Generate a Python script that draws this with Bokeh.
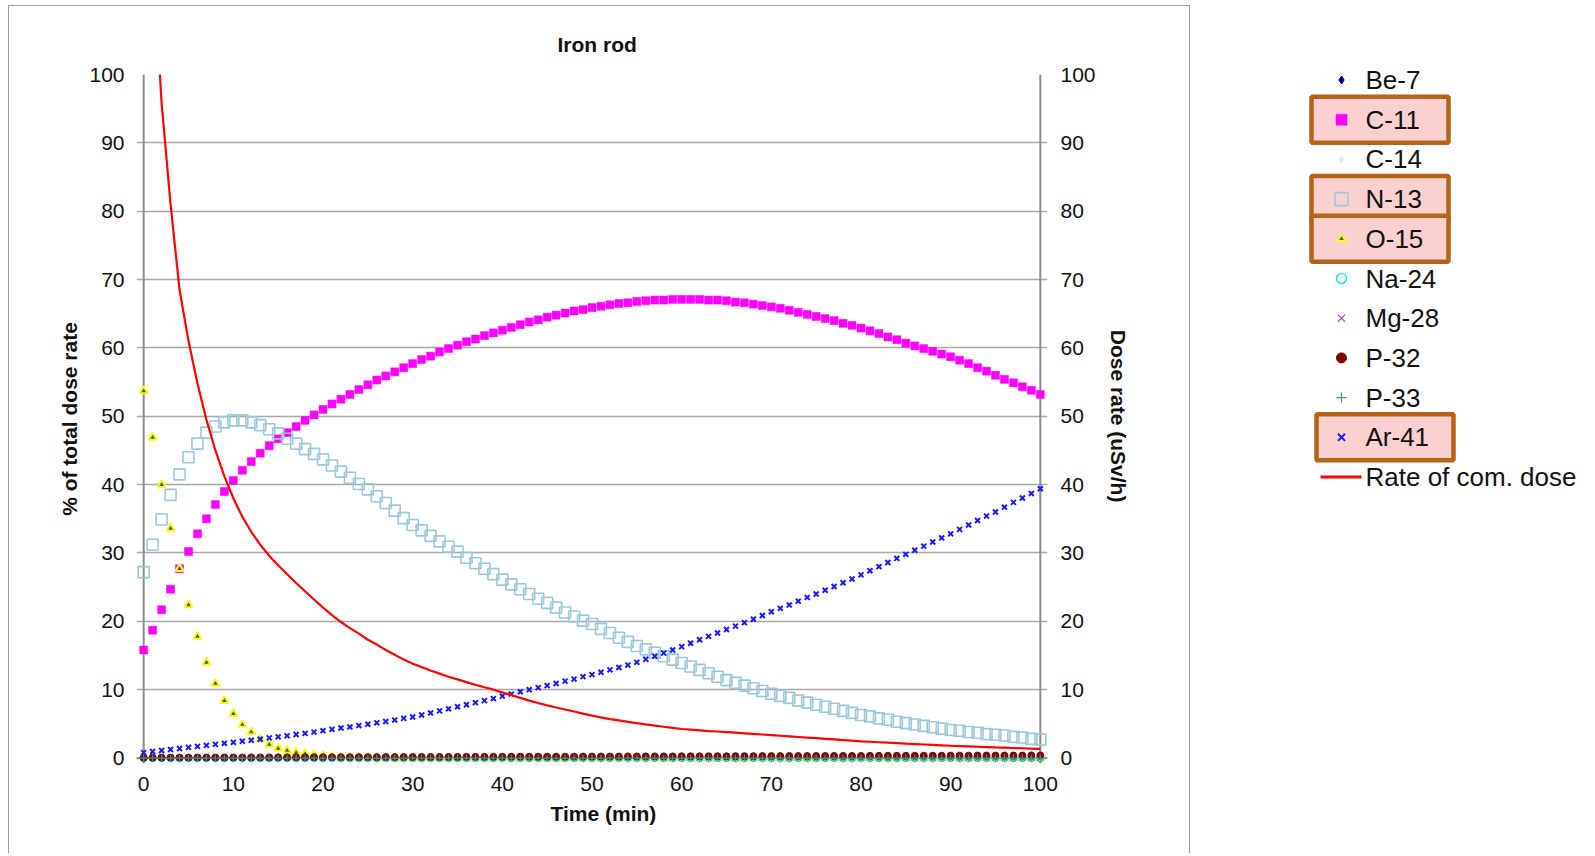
from bokeh.plotting import figure
from bokeh.models import Range1d, LinearAxis, FixedTicker, Span, Label, Plot, Title
from bokeh.layouts import row
from bokeh.embed import file_html
from bokeh.resources import INLINE

FONT = "Liberation Sans"

# ---------------- data ----------------
time_min = list(range(101))

c11 = [15.8, 18.7, 21.7, 24.7, 27.7, 30.2, 32.8, 35.0, 37.1, 39.0,
       40.6, 42.1, 43.4, 44.6, 45.7, 46.7, 47.6, 48.5, 49.4, 50.2,
       51.0, 51.8, 52.5, 53.2, 53.9, 54.6, 55.3, 55.9, 56.5, 57.1,
       57.7, 58.3, 58.8, 59.4, 59.9, 60.4, 60.9, 61.3, 61.8, 62.2,
       62.6, 63.0, 63.4, 63.8, 64.1, 64.5, 64.8, 65.1, 65.4, 65.6,
       65.9, 66.1, 66.3, 66.5, 66.6, 66.8, 66.9, 67.0, 67.0, 67.1,
       67.1, 67.1, 67.1, 67.0, 67.0, 66.9, 66.7, 66.6, 66.4, 66.2,
       66.0, 65.8, 65.5, 65.2, 64.9, 64.6, 64.3, 64.0, 63.6, 63.3,
       62.9, 62.5, 62.1, 61.6, 61.2, 60.7, 60.3, 59.9, 59.5, 59.1,
       58.7, 58.2, 57.7, 57.1, 56.6, 56.0, 55.4, 54.9, 54.3, 53.8,
       53.2]

n13 = [27.2, 31.2, 34.9, 38.5, 41.5, 44.0, 46.0, 47.6, 48.5, 49.1,
       49.4, 49.4, 49.1, 48.7, 48.1, 47.5, 46.7, 46.0, 45.2, 44.5,
       43.7, 42.8, 41.9, 41.0, 40.1, 39.3, 38.3, 37.3, 36.2, 35.1,
       34.1, 33.3, 32.5, 31.7, 30.9, 30.2, 29.3, 28.5, 27.7, 26.9,
       26.1, 25.4, 24.7, 24.0, 23.3, 22.7, 22.0, 21.3, 20.7, 20.1,
       19.6, 18.9, 18.3, 17.6, 17.0, 16.4, 15.9, 15.4, 14.9, 14.4,
       13.9, 13.4, 12.9, 12.4, 11.9, 11.4, 11.0, 10.6, 10.2, 9.8,
       9.4, 9.1, 8.8, 8.4, 8.1, 7.8, 7.5, 7.2, 6.9, 6.6,
       6.3, 6.1, 5.8, 5.6, 5.3, 5.1, 4.9, 4.7, 4.5, 4.3,
       4.1, 4.0, 3.8, 3.7, 3.5, 3.4, 3.3, 3.1, 3.0, 2.8,
       2.7]

o15 = [53.7, 46.9, 40.0, 33.6, 27.7, 22.4, 17.8, 14.0, 10.9, 8.4,
       6.5, 4.9, 3.8, 2.8, 2.0, 1.4, 1.1, 0.8, 0.6, 0.4,
       0.3, 0.2, 0.15, 0.1, 0.08, 0.05, 0.04, 0.03, 0.02, 0.01,
       0, 0, 0, 0, 0, 0, 0, 0, 0, 0,
       0, 0, 0, 0, 0, 0, 0, 0, 0, 0,
       0, 0, 0, 0, 0, 0, 0, 0, 0, 0,
       0, 0, 0, 0, 0, 0, 0, 0, 0, 0,
       0, 0, 0, 0, 0, 0, 0, 0, 0, 0,
       0, 0, 0, 0, 0, 0, 0, 0, 0, 0,
       0, 0, 0, 0, 0, 0, 0, 0, 0, 0,
       0]

ar41 = [0.8, 0.95, 1.1, 1.25, 1.4, 1.55, 1.7, 1.85, 2.0, 2.15,
        2.3, 2.45, 2.6, 2.75, 2.95, 3.1, 3.25, 3.45, 3.6, 3.8,
        4.0, 4.2, 4.4, 4.55, 4.75, 4.95, 5.15, 5.35, 5.55, 5.8,
        6.0, 6.3, 6.6, 6.9, 7.2, 7.5, 7.8, 8.1, 8.4, 8.7,
        9.05, 9.35, 9.7, 10.0, 10.3, 10.6, 10.9, 11.25, 11.55, 11.9,
        12.2, 12.55, 12.9, 13.25, 13.6, 14.0, 14.45, 14.9, 15.35, 15.8,
        16.3, 16.8, 17.3, 17.8, 18.3, 18.8, 19.3, 19.8, 20.3, 20.85,
        21.4, 21.9, 22.4, 22.95, 23.5, 24.0, 24.55, 25.1, 25.65, 26.2,
        26.8, 27.4, 28.0, 28.6, 29.2, 29.8, 30.4, 31.0, 31.6, 32.2,
        32.8, 33.45, 34.1, 34.75, 35.4, 36.0, 36.7, 37.4, 38.05, 38.7,
        39.4]

p32 = [0.05, 0.05, 0.05, 0.06, 0.06, 0.06, 0.07, 0.07, 0.07, 0.08,
       0.08, 0.08, 0.09, 0.09, 0.09, 0.10, 0.10, 0.10, 0.11, 0.11,
       0.11, 0.12, 0.12, 0.12, 0.13, 0.13, 0.13, 0.14, 0.14, 0.14,
       0.15, 0.15, 0.15, 0.16, 0.16, 0.16, 0.17, 0.17, 0.17, 0.18,
       0.18, 0.18, 0.19, 0.19, 0.19, 0.20, 0.20, 0.20, 0.21, 0.21,
       0.21, 0.22, 0.22, 0.22, 0.23, 0.23, 0.23, 0.24, 0.24, 0.24,
       0.25, 0.25, 0.25, 0.26, 0.26, 0.26, 0.27, 0.27, 0.27, 0.28,
       0.28, 0.28, 0.29, 0.29, 0.29, 0.30, 0.30, 0.30, 0.31, 0.31,
       0.31, 0.32, 0.32, 0.32, 0.33, 0.33, 0.33, 0.34, 0.34, 0.34,
       0.35, 0.35, 0.35, 0.36, 0.36, 0.36, 0.37, 0.37, 0.37, 0.38,
       0.38]

near_zero = [0, 0, 0, 0, 0, 0, 0, 0, 0, 0,
             0, 0, 0, 0, 0, 0, 0, 0, 0, 0,
             0, 0, 0, 0, 0, 0, 0, 0, 0, 0,
             0, 0, 0, 0, 0, 0, 0, 0, 0, 0,
             0, 0, 0, 0, 0, 0, 0, 0, 0, 0,
             0, 0, 0, 0, 0, 0, 0, 0, 0, 0,
             0, 0, 0, 0, 0, 0, 0, 0, 0, 0,
             0, 0, 0, 0, 0, 0, 0, 0, 0, 0,
             0, 0, 0, 0, 0, 0, 0, 0, 0, 0,
             0, 0, 0, 0, 0, 0, 0, 0, 0, 0,
             0]
be7 = near_zero
c14 = near_zero
na24 = near_zero
mg28 = near_zero
p33 = near_zero

dose_rate = [145.0, 118.0, 95.8, 81.0, 68.5, 61.0, 54.8, 49.5, 45.0, 41.2,
             38.0, 35.3, 33.1, 31.2, 29.6, 28.2, 26.9, 25.6, 24.4, 23.2,
             22.0, 20.9, 19.9, 19.0, 18.2, 17.3, 16.6, 15.8, 15.1, 14.4,
             13.8, 13.3, 12.8, 12.35, 11.9, 11.5, 11.1, 10.7, 10.35, 10.0,
             9.6, 9.2, 8.8, 8.4, 8.05, 7.7, 7.4, 7.1, 6.8, 6.5,
             6.2, 5.95, 5.7, 5.5, 5.3, 5.1, 4.92, 4.75, 4.58, 4.42,
             4.25, 4.15, 4.05, 3.95, 3.88, 3.8, 3.71, 3.62, 3.53, 3.44,
             3.35, 3.26, 3.17, 3.08, 2.99, 2.9, 2.81, 2.72, 2.63, 2.54,
             2.45, 2.38, 2.31, 2.24, 2.17, 2.1, 2.04, 1.98, 1.92, 1.86,
             1.8, 1.75, 1.7, 1.65, 1.6, 1.55, 1.51, 1.47, 1.43, 1.39,
             1.35]

x_ticks = [0, 10, 20, 30, 40, 50, 60, 70, 80, 90, 100]
y_ticks = [0, 10, 20, 30, 40, 50, 60, 70, 80, 90, 100]

series_names = ["Be-7", "C-11", "C-14", "N-13", "O-15", "Na-24",
                "Mg-28", "P-32", "P-33", "Ar-41"]
series_values = [be7, c11, c14, n13, o15, na24, mg28, p32, p33, ar41]
highlighted = ["C-11", "N-13", "O-15", "Ar-41"]
line_name = "Rate of com. dose"
chart_title = "Iron rod"
x_label = "Time (min)"

# ---------------- styles ----------------
styles = {
    "Be-7":  dict(marker="diamond", size=7, fill_color="#000080", line_color="#000080", line_width=1),
    "C-11":  dict(marker="square", size=8, fill_color="#FF00FF", line_color="#FF00FF", line_width=0.5),
    "C-14":  dict(marker="diamond", size=7, fill_color="#C8F8F8", line_color="#C8F8F8", line_width=1),
    "N-13":  dict(marker="square", size=11, fill_color=None, line_color="#9CC8DA", line_width=1.6),
    "O-15":  dict(marker="triangle", size=8, fill_color="#2F5C9A", line_color="#FFFF00", line_width=2),
    "Na-24": dict(marker="circle", size=7, fill_color=None, line_color="#00E0E0", line_width=1.2),
    "Mg-28": dict(marker="x", size=7, fill_color=None, line_color="#B04CB0", line_width=1.2),
    "P-32":  dict(marker="circle", size=7, fill_color="#800000", line_color="#800000", line_width=1),
    "P-33":  dict(marker="cross", size=7, fill_color=None, line_color="#339999", line_width=1.2),
    "Ar-41": dict(marker="x", size=7, fill_color=None, line_color="#1A1AFF", line_width=2),
}
legend_sizes = {"Be-7": 8, "C-11": 11, "C-14": 7, "N-13": 13, "O-15": 8, "Na-24": 10,
                "Mg-28": 10, "P-32": 10, "P-33": 10, "Ar-41": 10}

GRID = "#A8A8A8"
AXIS = "#8C8C8C"
TXT = "#111111"

FIG_H = 848
TOP_B = 68
FRAME_H = 689
BOT_B = FIG_H - TOP_B - FRAME_H

# ---------------- main chart ----------------
p = figure(width=1182, height=FIG_H,
           x_range=Range1d(-0.8, 100.8), y_range=Range1d(-0.8, 100),
           min_border_left=127, min_border_right=144,
           min_border_top=TOP_B, min_border_bottom=BOT_B,
           output_backend="svg", toolbar_location=None)
p.styles = {"border-top": "1px solid #A0A0A0", "border-left": "1px solid #A0A0A0",
            "border-right": "1px solid #A0A0A0"}
p.outline_line_color = None
p.background_fill_color = "white"
p.border_fill_color = "white"

p.title.text = chart_title
p.title.align = "left"
p.title.offset = 421
p.title.text_font = FONT
p.title.text_font_size = "21px"
p.title.text_font_style = "bold"
p.title.text_color = TXT
p.title.standoff = 37

p.xgrid.visible = False
p.ygrid.ticker = FixedTicker(ticks=y_ticks)
p.ygrid.grid_line_color = GRID
p.ygrid.grid_line_width = 1.5

p.extra_y_ranges = {"dose": Range1d(-0.8, 100)}
right_axis = LinearAxis(y_range_name="dose")
p.add_layout(right_axis, "right")

for ax in [p.xaxis[0], p.yaxis[0], right_axis]:
    ax.ticker = FixedTicker(ticks=x_ticks if ax is p.xaxis[0] else y_ticks)
    ax.axis_line_color = None
    ax.major_tick_line_color = None
    ax.minor_tick_line_color = None
    ax.major_label_text_font = FONT
    ax.major_label_text_font_size = "21px"
    ax.major_label_text_color = TXT
    ax.axis_label_text_font = FONT
    ax.axis_label_text_font_size = "21px"
    ax.axis_label_text_font_style = "bold"
    ax.axis_label_text_color = TXT

p.xaxis[0].major_label_standoff = 7
p.yaxis[0].axis_label = "% of total dose rate"
p.yaxis[0].major_label_standoff = 6
p.yaxis[0].axis_label_standoff = 5
right_axis.axis_label = "Dose rate  (uSv/h)"
right_axis.major_label_standoff = 7
right_axis.axis_label_standoff = 8

# x-axis title (placed below the axis, slightly right of centre as in the original)
p.add_layout(Title(text=x_label, align="left", offset=414, standoff=13,
                   text_font=FONT, text_font_size="21px", text_font_style="bold",
                   text_color=TXT), "below")

for loc, dim in [(0, "height"), (100, "height"), (0, "width")]:
    p.add_layout(Span(location=loc, dimension=dim, line_color=AXIS,
                      line_width=2, level="underlay"))

for name, vals in zip(series_names, series_values):
    st = styles[name]
    p.scatter(time_min, vals, marker=st["marker"], size=st["size"],
              fill_color=st["fill_color"], line_color=st["line_color"],
              line_width=st["line_width"])

p.line(time_min, dose_rate, y_range_name="dose", line_color="#FF0000", line_width=2.2)

# ---------------- legend panel (page-pixel coordinates) ----------------
can_unalign = "frame_align" in Plot.properties()
if can_unalign:
    leg_y = Range1d(5 + FIG_H, 5)
    leg_top, leg_bot = 0, 0
else:
    leg_y = Range1d(6 + TOP_B + FRAME_H, 6 + TOP_B)
    leg_top, leg_bot = TOP_B, BOT_B

leg = figure(width=395, height=FIG_H, x_range=Range1d(1192, 1587), y_range=leg_y,
             x_axis_type=None, y_axis_type=None,
             min_border_left=0, min_border_right=0,
             min_border_top=leg_top, min_border_bottom=leg_bot,
             output_backend="svg", toolbar_location=None)
leg.grid.visible = False
leg.outline_line_color = None
if can_unalign:
    leg.frame_align = False
    p.frame_align = False

row_y = [79.5 + 39.7 * i for i in range(len(series_names) + 1)]
marker_x = 1343
text_x = 1367

box_l, box_r, box_t, box_b = [], [], [], []
for name in highlighted:
    i = series_names.index(name)
    yc = row_y[i]
    if name == "Ar-41":
        box_l.append(1318); box_r.append(1455)
    else:
        box_l.append(1313); box_r.append(1450)
    box_t.append(yc - 23); box_b.append(yc + 23)
leg.quad(left=box_l, right=box_r, top=box_t, bottom=box_b,
         fill_color="#FDD0D0", line_color="#B5621B", line_width=4.5)

for i, name in enumerate(series_names):
    st = styles[name]
    leg.scatter([marker_x], [row_y[i]], marker=st["marker"], size=legend_sizes[name],
                fill_color=st["fill_color"], line_color=st["line_color"],
                line_width=st["line_width"])

leg.segment(x0=[1322], y0=[row_y[-1]], x1=[1363], y1=[row_y[-1]],
            line_color="#FF0000", line_width=3)

for i, txt in enumerate(series_names + [line_name]):
    leg.add_layout(Label(x=text_x, y=row_y[i], text=txt, text_font=FONT,
                         text_font_size="26px", text_baseline="middle",
                         text_align="left", text_color=TXT))

layout = row(p, leg)
layout.margin = (5, 0, 0, 8)
open("out.html", "w").write(file_html(layout, INLINE))
